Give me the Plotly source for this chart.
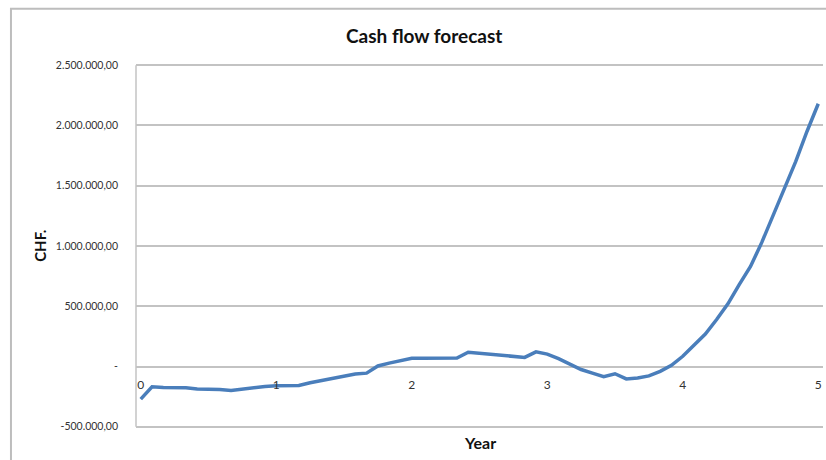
import plotly.graph_objects as go

# Month index (0..60) and cash flow in CHF
months = list(range(61))
cash = [
    -270000, -168000, -175000, -176000, -177000, -187000, -188000, -190000,
    -198000, -185000, -175000, -165000, -160000, -160000, -158000, -135000,
    -115000, -100000, -80000, -62000, -55000, 5000, 28000, 50000,
    68000, 68000, 68000, 68000, 70000, 118000, 110000, 107000,
    96000, 85000, 76000, 122000, 103000, 65000, 18000, -25000,
    -55000, -85000, -60000, -103000, -95000, -78000, -40000, 10000,
    85000, 175000, 270000, 390000, 520000, 680000, 830000, 1030000,
    1250000, 1480000, 1700000, 1950000, 2180000,
]

x_tick_vals = [0, 12, 24, 36, 48, 60]
x_tick_text = ["0", "1", "2", "3", "4", "5"]
y_tick_vals = [-500000, 0, 500000, 1000000, 1500000, 2000000, 2500000]
y_tick_text = ["-500.000,00", "-", "500.000,00", "1.000.000,00",
               "1.500.000,00", "2.000.000,00", "2.500.000,00"]

FONT = "Lato, 'Open Sans', sans-serif"
GRID = "#c3c3c3"
Y_MIN, Y_MAX = -510000, 2510000

fig = go.Figure()
fig.add_trace(go.Scatter(
    x=months, y=cash, mode="lines",
    line=dict(color="#4a7ebb", width=3.5),
    hoverinfo="skip", showlegend=False,
))

zero_pos = (0 - Y_MIN) / (Y_MAX - Y_MIN)

fig.update_layout(
    width=826, height=460,
    margin=dict(l=136, r=3, t=64, b=32),
    paper_bgcolor="white", plot_bgcolor="white",
    font=dict(family=FONT, color="#333333"),
    xaxis=dict(
        range=[-0.42, 60.42],
        tickvals=x_tick_vals, ticktext=x_tick_text,
        showgrid=False, zeroline=False, showline=False,
        anchor="free", position=zero_pos,
        ticks="", ticklabelstandoff=9,
        tickfont=dict(family=FONT, size=12, color="#333333"),
    ),
    yaxis=dict(
        range=[Y_MIN, Y_MAX],
        tickvals=y_tick_vals, ticktext=y_tick_text,
        showgrid=True, gridcolor=GRID, gridwidth=1.5,
        zeroline=True, zerolinecolor=GRID, zerolinewidth=1.5,
        showline=False,
        ticks="", ticklabelstandoff=17,
        tickfont=dict(family=FONT, size=10.5, color="#333333"),
    ),
    shapes=[
        dict(type="rect", xref="paper", yref="paper",
             x0=-0.182, x1=1.5, y0=-0.5, y1=1.152,
             line=dict(color="#bdbdbd", width=2), layer="below"),
        dict(type="line", xref="paper", yref="y",
             x0=0, x1=0, y0=-500000, y1=2500000,
             line=dict(color=GRID, width=1.5), layer="below"),
    ],
    annotations=[
        dict(text="<b>Cash flow forecast</b>", xref="paper", yref="paper",
             x=0.419, y=1.077, xanchor="center", yanchor="middle",
             showarrow=False, font=dict(family=FONT, size=19, color="#111111")),
        dict(text="<b>CHF.</b>", xref="paper", yref="paper",
             x=-0.140, y=0.5, xanchor="center", yanchor="middle",
             textangle=-90, showarrow=False,
             font=dict(family=FONT, size=15, color="#111111")),
        dict(text="<b>Year</b>", xref="paper", yref="paper",
             x=0.5, y=-0.0387, xanchor="center", yanchor="middle",
             showarrow=False, font=dict(family=FONT, size=16, color="#111111")),
    ],
)

fig.write_html("out.html")
